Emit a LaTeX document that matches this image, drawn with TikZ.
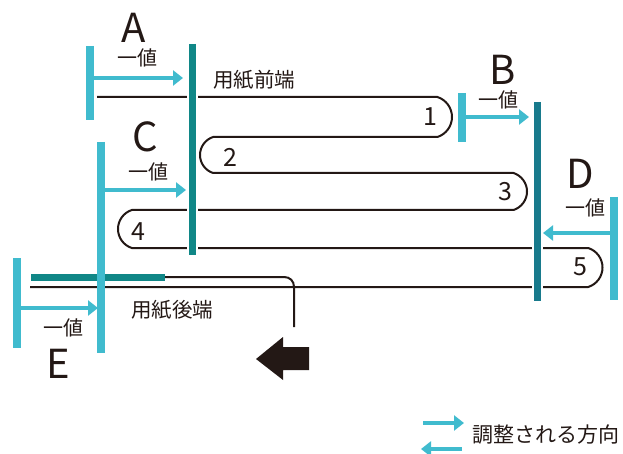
\documentclass[tikz,border=0pt]{standalone}
\usepackage{fontspec}
\setmainfont{Noto Sans CJK JP}
\usetikzlibrary{arrows.meta}
\definecolor{ink}{RGB}{35,24,21}
\definecolor{tealA}{RGB}{16,135,135}
\definecolor{tealB}{RGB}{24,122,140}
\definecolor{cyanadj}{RGB}{64,187,206}
\tikzset{
  paper/.style={draw=ink, line width=2pt},
  guidebar/.style={line width=7pt, preaction={draw=white, line width=11pt}},
  adjbar/.style={draw=cyanadj, line width=7.5pt},
  adjarrow/.style={draw=cyanadj, line width=4.5pt, -{Triangle[width=15pt,length=10pt]}},
  bigletter/.style={text=ink, inner sep=0pt, font=\fontsize{40}{40}\selectfont},
  valuelabel/.style={text=ink, inner sep=0pt, font=\fontsize{20}{20}\selectfont},
  foldnum/.style={text=ink, inner sep=0pt, font=\fontsize{25}{25}\selectfont},
  edgelabel/.style={text=ink, inner sep=0pt, font=\fontsize{20.5}{20.5}\selectfont},
}
\begin{document}
\begin{tikzpicture}[x=1pt,y=-1pt]
\useasboundingbox (0,0) rectangle (623,454);

% paper path
\draw[paper] (97,97) -- (437.4,97)
  .. controls (446.1,99.8) and (452,107.9) .. (452,117)
  .. controls (452,126.1) and (446.1,134.2) .. (437.4,137)
  -- (213.1,137)
  .. controls (205.3,139.5) and (200,146.8) .. (200,155)
  .. controls (200,163.2) and (205.3,170.5) .. (213.1,173)
  -- (513.5,173)
  .. controls (521.5,175.6) and (527,183.1) .. (527,191.5)
  .. controls (527,199.9) and (521.5,207.4) .. (513.5,210)
  -- (131.9,210)
  .. controls (123.6,212.6) and (118,220.3) .. (118,229)
  .. controls (118,237.7) and (123.6,245.4) .. (131.9,248)
  -- (588.2,248)
  .. controls (596.7,250.7) and (602.5,258.6) .. (602.5,267.5)
  .. controls (602.5,276.4) and (596.7,284.3) .. (588.2,287)
  -- (30,287);

% trailing connector and feed arrow
\coordinate (tailstart) at (165,277);
\coordinate (tailend) at (294,327);
\draw[paper] (tailstart) -- (284,277) .. controls (290,277) and (294,281) .. (294,287) -- (tailend);
\fill[ink] (256,359) -- (283,337) -- (283,347) -- (309,347) -- (309,370) -- (283,370) -- (283,380) -- cycle;

% teal guide bars
\draw[guidebar, draw=tealA] (192,44) -- (192,255);
\draw[guidebar, draw=tealB] (537,102) -- (537,301);
\draw[draw=tealA, line width=7pt] (31,277) -- (tailstart);

% numbers
\node[foldnum] (n1) at (430,117) {1};
\node[foldnum] (n2) at (230,157) {2};
\node[foldnum] (n3) at (505,192) {3};
\node[foldnum] (n4) at (138,232) {4};
\node[foldnum] (n5) at (580,267) {5};

% adjustment A
\draw[adjbar] (90,46) -- (90,120);
\coordinate (a0) at (90,78);
\coordinate (a1) at (183,78);
\draw[adjarrow] (a0) -- (a1);
\node[bigletter] (A) at (134,28) {A};
\node[valuelabel] (va) at (137,58) {一値};

% adjustment B
\draw[adjbar] (462,93) -- (462,142);
\coordinate (b0) at (462,117);
\coordinate (b1) at (529,117);
\draw[adjarrow] (b0) -- (b1);
\node[bigletter] (B) at (503,70) {B};
\node[valuelabel] (vb) at (498,100) {一値};

% adjustment C
\draw[adjbar] (101,142) -- (101,353);
\coordinate (c0) at (101,190);
\coordinate (c1) at (186,190);
\draw[adjarrow] (c0) -- (c1);
\node[bigletter] (C) at (145,137) {C};
\node[valuelabel] (vc) at (148,172) {一値};

% adjustment D
\draw[adjbar] (614,197) -- (614,300);
\coordinate (d0) at (614,233);
\coordinate (d1) at (543,233);
\draw[adjarrow] (d0) -- (d1);
\node[bigletter] (D) at (580,174) {D};
\node[valuelabel] (vd) at (585,208) {一値};

% adjustment E
\draw[adjbar] (17,258) -- (17,348);
\coordinate (e0) at (17,308);
\coordinate (e1) at (98,308);
\draw[adjarrow] (e0) -- (e1);
\node[bigletter] (E) at (58,364) {E};
\node[valuelabel] (ve) at (63,328) {一値};

% edge labels
\node[edgelabel] (front) at (254,80) {用紙前端};
\node[edgelabel] (rear) at (172,310) {用紙後端};

% legend
\coordinate (l0) at (423,423);
\coordinate (l1) at (464,423);
\coordinate (l2) at (462,449);
\coordinate (l3) at (421,449);
\draw[adjarrow] (l0) -- (l1);
\draw[adjarrow] (l2) -- (l3);
\node[text=ink, inner sep=0pt, font=\fontsize{21}{21}\selectfont, anchor=west] (legend) at (472,435) {調整される方向};
\end{tikzpicture}
\end{document}
